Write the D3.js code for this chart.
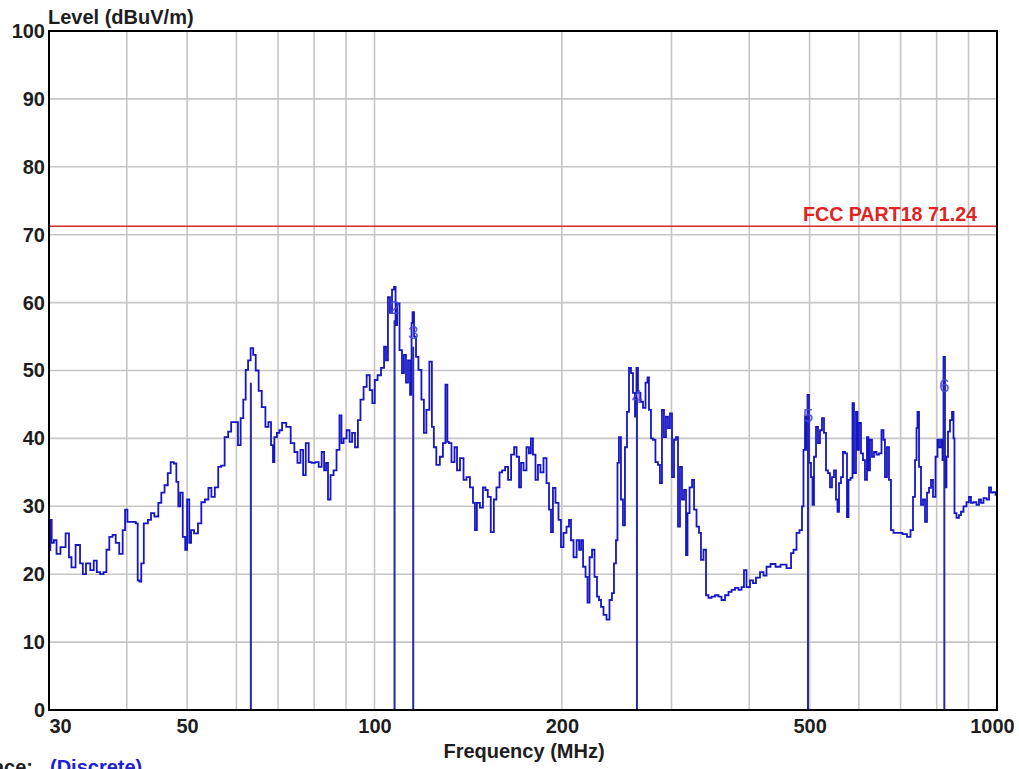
<!DOCTYPE html>
<html><head><meta charset="utf-8">
<script src="https://cdn.jsdelivr.net/npm/d3@7"></script>
<style>html,body{margin:0;padding:0;background:#fff;overflow:hidden}svg{display:block}</style>
</head><body><svg id="c" width="1019" height="769"></svg>
<script>
// ---- data ----
const freqMHz = [30.0,30.1,30.2,30.4,30.7,31.0,31.6,32.2,32.4,32.8,33.4,33.9,34.1,34.7,35.2,35.6,36.0,36.5,36.9,37.3,37.7,38.2,38.6,39.2,39.6,39.9,40.3,41.1,41.6,41.7,42.1,42.3,42.9,43.6,43.9,44.7,45.2,45.7,46.3,46.8,47.3,47.9,48.2,48.6,48.9,49.5,49.8,50.2,50.6,50.9,51.7,52.4,53.0,53.8,54.4,55.0,55.8,56.4,57.0,57.9,58.5,59.2,60.1,60.6,61.3,61.8,62.4,62.9,63.6,64.1,64.8,65.5,66.3,67.3,67.8,68.6,68.8,69.3,70.1,
70.6,71.5,72.8,73.9,74.8,75.6,76.5,77.1,78.0,78.8,79.7,80.9,81.8,82.7,83.3,83.9,84.5,85.5,86.4,87.4,88.3,88.7,89.7,90.7,91.7,92.4,93.7,94.4,95.5,96.6,97.7,98.8,99.6,100.6,101.7,103.2,104.0,104.7,105.5,106.3,107.1,107.9,108.3,109.1,110.3,111.1,111.9,112.8,113.6,114.5,114.9,115.3,116.2,117.0,118.3,119.6,120.5,121.8,123.2,124.1,125.0,126.4,128.3,129.3,130.7,131.2,132.2,133.7,135.2,136.2,138.2,139.8,141.3,143.4,144.5,145.5,146.6,148.8,149.9,151.5,152.6,154.9,156.1,157.9,159.7,160.9,163.3,164.5,167.0,
168.2,170.1,171.3,172.6,174.5,176.4,177.7,179.0,180.4,182.4,183.7,185.8,187.9,190.0,191.4,192.8,194.2,196.4,198.6,200.1,202.3,204.6,206.1,207.6,210.0,212.4,213.9,215.5,217.1,219.5,220.3,222.8,224.4,226.9,228.6,230.3,232.0,234.6,237.2,239.8,241.6,243.4,245.2,246.1,247.9,249.8,251.6,253.5,255.4,257.3,259.2,261.1,263.1,264.0,266.0,269.0,271.0,274.0,275.0,277.0,279.1,281.1,284.3,286.4,288.5,290.7,292.8,295.0,297.2,299.4,301.7,303.9,306.2,308.4,310.7,313.0,315.4,317.7,318.9,322.5,324.9,327.3,330.9,333.3,335.8,339.6,342.1,345.9,349.8,355.0,358.9,363.0,368.4,372.5,376.7,382.2,386.5,390.8,393.7,398.1,404.0,407.0,413.1,419.3,424.0,
428.7,436.7,444.9,453.2,465.1,468.5,473.8,479.0,484.3,487.9,489.7,493.4,495.2,497.0,500.7,504.4,506.3,510.1,513.9,517.7,521.5,525.4,529.3,533.2,537.1,541.1,545.2,549.2,553.3,555.4,559.5,563.6,567.8,572.0,576.3,578.4,584.9,587.0,591.4,595.8,598.0,602.4,606.9,611.4,615.9,620.5,622.8,627.4,632.1,636.8,643.9,648.7,655.9,658.3,663.2,668.1,673.1,678.1,685.7,698.5,711.6,722.2,730.2,735.7,741.1,743.9,746.6,752.2,757.7,763.4,769.0,774.8,780.5,786.3,792.1,801.0,803.9,809.9,815.9,818.9,821.9,828.0,831.1,837.3,843.5,849.8,852.9,856.1,865.6,872.0,878.5,888.3,898.2,904.9,911.6,921.8,932.1,939.0,946.0,956.6,967.3,974.5,981.7,989.0,1000];
const levelDb = [27,23.5,28,24.6,25,23,24,26,22.5,21,24.3,21.6,20,21.6,20.6,22,20.3,20,20.3,23.6,25.5,25.8,24.6,23,26.5,29.5,27.7,27.7,27.5,19.1,18.9,21.6,27.5,28,29,28.5,30.5,32,33.1,34.9,36.5,36.3,33.6,30,32,25.5,23.6,31,24.6,26.5,26,27.5,30.6,31,32.7,31.4,32.8,35.8,36,40.2,41,42.4,42.4,39,43,45.7,50.1,51.5,53.3,52.3,50,47,44.6,41.7,42.4,39,36.5,40.2,40.8,
41.2,42.3,41.7,39.3,38,36.4,38.3,34.6,39.3,36.5,36.4,36.5,35.8,38,35.3,36.4,31,34.6,35.3,38.3,43.4,39.3,40,41.2,39.5,40.8,38.7,42.7,45.7,47.6,49.3,47.1,45.2,48.6,49.3,50.4,53.5,51.5,60.8,58.5,61.9,62.3,56.7,59.9,53,49.6,52.3,48.2,51.5,46.4,57,58.6,55,52,50.1,45.7,40.8,44.2,51.3,41.7,38.7,36.1,37.3,39.3,47.9,39.5,39.3,36.5,38.7,35.3,37.1,33.9,34.3,32.8,30.5,26.5,30.5,29.8,32.8,32.4,31.4,26.2,31,32.8,35,35.3,35.8,33.9,37.6,
38.7,37.3,32.8,36.4,35.3,38.7,37.8,40,37.6,33.9,36.1,35,37.1,33.4,29.5,26.2,32.7,30.5,28,24,26.1,27,28,25,22.5,25,23.6,25,21.1,19.6,15.8,22.5,23.6,19.6,16.7,16.2,15.2,14,13.3,16.2,17.2,21.6,25,36.4,40.2,31,27.2,38.7,43.9,50.4,49.6,46.7,43.2,50.4,46.7,45.4,44.5,48.2,49,44.2,40,39.8,36.5,36.1,33.4,44.2,40.2,43.2,41.5,43.7,34.3,39.8,40.2,27,35.8,31,32.4,22.8,29,32.8,33.9,29.5,27,26.1,22.1,23.6,16.9,16.5,16.7,16.9,16.7,16.2,16.9,17.4,17.7,18,17.7,18.1,20.6,18.1,19.1,18.7,19.5,20.3,19.8,
21.1,21.5,21.1,21.4,20.9,23.1,23.6,26.1,26.5,30,38.3,43.2,38.3,46.4,36.4,34.3,30.2,37.3,41.7,39.3,41.2,43,40.8,35.3,34.9,32.8,34.3,35.3,31,29.2,33.4,34.3,38,37.8,28.4,33.9,34.2,45.2,34.9,43.9,38.3,42.3,37.8,36.8,33.9,40.2,35.3,39.8,37.3,38,37.6,37.8,41.2,39.8,34.3,38.7,33.9,26.5,26.1,26.1,25.9,25.5,26.5,31.4,36.8,41.5,43.9,35.8,30.2,31,27.7,32,32.7,33.9,31.4,37.3,39.8,38.7,39.8,36.8,52,32.8,37.3,41,42.7,43.9,40,29,28.3,28.7,29.2,30,30.6,31.4,30.5,30.6,30.2,31,30.5,31.2,31,32.8,32,32.1,31.7];

const markerFreqMHz = [63.3, 107.7, 115.4, 264, 497, 823];
const markerLevelDb = [48.2, 57.4, 53.5, 46.0, 46.4, 52.0];
const markerText = ["", "2", "3", "4", "5", "6"];
const markerTextLevelDb = [48.2, 59.4, 55.7, 46.2, 43.4, 47.9];

const limitLevelDb = 71.24;
const limitText = "FCC PART18 71.24";

const xTickValues = [30, 50, 100, 200, 500, 1000];
const xGridValues = [40, 50, 60, 70, 80, 90, 100, 200, 300, 400, 500, 600, 700, 800, 900];
const yTickValues = [0, 10, 20, 30, 40, 50, 60, 70, 80, 90, 100];

const yTitle = "Level (dBuV/m)";
const xTitle = "Frequency (MHz)";
const traceLabel = "Trace:";
const traceName = "(Discrete)";

// ---- drawing ----
const FONT = "Arial, 'Liberation Sans', sans-serif";
const svg = d3.select("#c");
const L = 49, R = 997, T = 31, B = 710;
const x = d3.scaleLog().domain([30, 1000]).range([L, R]);
const y = d3.scaleLinear().domain([0, 100]).range([B, T]);

const grid = svg.append("g").attr("stroke", "#c6c6c6").attr("stroke-width", 1.6);
grid.selectAll("line.v").data(xGridValues).join("line")
  .attr("x1", d => x(d)).attr("x2", d => x(d)).attr("y1", T).attr("y2", B);
grid.selectAll("line.h").data(yTickValues.slice(1, -1)).join("line")
  .attr("x1", L).attr("x2", R).attr("y1", d => y(d)).attr("y2", d => y(d));

// limit line
svg.append("line").attr("x1", L).attr("x2", R)
  .attr("y1", y(limitLevelDb)).attr("y2", y(limitLevelDb))
  .attr("stroke", "#d42a2a").attr("stroke-width", 1.6);
svg.append("text").attr("x", 977).attr("y", y(limitLevelDb) - 5)
  .attr("text-anchor", "end").attr("font-family", FONT).attr("font-weight", "bold")
  .attr("font-size", 19.5).attr("textLength", 174).attr("lengthAdjust", "spacingAndGlyphs")
  .attr("fill", "#e02424").text(limitText);

// trace
const pts = freqMHz.map((f, i) => [f, levelDb[i]]);
svg.append("path").datum(pts)
  .attr("d", d3.line().x(d => x(d[0])).y(d => y(d[1])).curve(d3.curveStep))
  .attr("fill", "none").attr("stroke", "#1616c4").attr("stroke-width", 1.8)
  .attr("stroke-linejoin", "miter");

// markers
svg.append("g").selectAll("line").data(markerFreqMHz).join("line")
  .attr("x1", d => x(d)).attr("x2", d => x(d))
  .attr("y1", (d, i) => y(markerLevelDb[i])).attr("y2", B)
  .attr("stroke", "#2828aa").attr("stroke-width", 2);
svg.append("g").selectAll("text").data(markerFreqMHz).join("text")
  .attr("x", d => x(d)).attr("y", (d, i) => y(markerTextLevelDb[i]))
  .attr("dy", "0.36em").attr("text-anchor", "middle")
  .attr("font-family", FONT).attr("font-size", 19)
  .attr("fill", "#4848e0").attr("fill-opacity", 0.9)
  .text((d, i) => markerText[i]);

// frame
svg.append("rect").attr("x", L).attr("y", T).attr("width", R - L).attr("height", B - T)
  .attr("fill", "none").attr("stroke", "#000").attr("stroke-width", 2);

// axes
const yAxis = svg.append("g").attr("transform", `translate(${L},0)`)
  .call(d3.axisLeft(y).tickValues(yTickValues).tickSize(0).tickPadding(4).tickFormat(d3.format("d")));
yAxis.select(".domain").remove();
yAxis.selectAll("text").attr("font-family", FONT).attr("font-weight", "bold")
  .attr("font-size", 20).attr("fill", "#1e1e1e");

const xAxis = svg.append("g").attr("transform", `translate(0,${B})`)
  .call(d3.axisBottom(x).tickValues(xTickValues).tickSize(0).tickFormat(d3.format("d")));
xAxis.select(".domain").remove();
xAxis.selectAll("text").attr("font-family", FONT).attr("font-weight", "bold")
  .attr("font-size", 20).attr("fill", "#1e1e1e")
  .attr("y", 23).attr("dy", 0)
  .attr("text-anchor", d => d === 30 ? "start" : "middle")
  .attr("dx", d => d === 1000 ? -5 : 0);

svg.append("text").attr("x", 48).attr("y", 24).attr("font-family", FONT)
  .attr("font-weight", "bold").attr("font-size", 20).attr("fill", "#1e1e1e").text(yTitle);
svg.append("text").attr("x", 524).attr("y", 758).attr("text-anchor", "middle")
  .attr("font-family", FONT).attr("font-weight", "bold").attr("font-size", 20)
  .attr("fill", "#1e1e1e").text(xTitle);
svg.append("text").attr("x", 33).attr("y", 774).attr("text-anchor", "end")
  .attr("font-family", FONT).attr("font-weight", "bold").attr("font-size", 20)
  .attr("fill", "#1e1e1e").text(traceLabel);
svg.append("text").attr("x", 50).attr("y", 774)
  .attr("font-family", FONT).attr("font-weight", "bold").attr("font-size", 20)
  .attr("fill", "#2020d0").text(traceName);
</script></body></html>
